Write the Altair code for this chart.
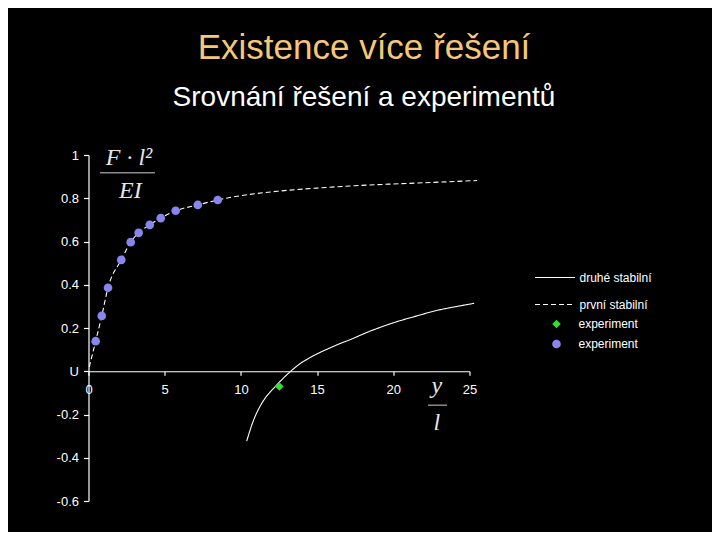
import altair as alt
import pandas as pd

# ---- data ----
dash_x = [0.05, 0.47, 0.87, 1.28, 2.15, 2.77, 3.29, 4.02, 4.74, 5.72, 7.17, 8.48, 10.0, 12.5, 15.0, 17.5, 20.0, 22.5, 25.5]
dash_y = [0.02, 0.139, 0.256, 0.386, 0.515, 0.597, 0.640, 0.677, 0.708, 0.742, 0.769, 0.792, 0.812, 0.833, 0.847, 0.858, 0.866, 0.873, 0.882]

solid_x = [10.38, 10.81, 11.25, 11.69, 12.13, 12.6, 13.22, 13.88, 14.53, 15.19, 15.85, 16.5, 17.05, 18.5, 20.0, 21.5, 22.9, 24.2, 25.3]
solid_y = [-0.323, -0.23, -0.163, -0.115, -0.08, -0.045, -0.003, 0.035, 0.063, 0.087, 0.108, 0.128, 0.143, 0.186, 0.224, 0.255, 0.282, 0.300, 0.314]

blue_x = [0.47, 0.87, 1.28, 2.15, 2.77, 3.29, 4.02, 4.74, 5.72, 7.17, 8.48]
blue_y = [0.139, 0.256, 0.386, 0.515, 0.597, 0.640, 0.677, 0.708, 0.742, 0.769, 0.792]

green_x = [12.52]
green_y = [-0.07]

line_names = ["druhé stabilní", "první stabilní"]
point_names = ["exp_green", "exp_blue"]

x_ticks = [0, 5, 10, 15, 20, 25]
y_ticks = [-0.6, -0.4, -0.2, 0, 0.2, 0.4, 0.6, 0.8, 1]

# formula annotations (data coordinates)
ann_text = ["F · l²", "EI", "y", "l"]
ann_x = [2.66, 2.75, 22.85, 22.85]
ann_y = [0.954, 0.801, -0.102, -0.273]
bar_x1 = [0.75, 22.28]
bar_x2 = [4.36, 23.53]
bar_y = [0.918, -0.157]

# ---- tables ----
lines_df = pd.concat([
    pd.DataFrame({"x": solid_x, "y": solid_y, "series": line_names[0]}),
    pd.DataFrame({"x": dash_x, "y": dash_y, "series": line_names[1]}),
])
points_df = pd.concat([
    pd.DataFrame({"x": green_x, "y": green_y, "series": point_names[0]}),
    pd.DataFrame({"x": blue_x, "y": blue_y, "series": point_names[1]}),
])
ann_df = pd.DataFrame({"x": ann_x, "y": ann_y, "text": ann_text})
bar_df = pd.DataFrame({"x": bar_x1, "x2": bar_x2, "y": bar_y})

W, H = 381, 346
xs = alt.Scale(domain=[0, 25], nice=False, zero=False)
ys = alt.Scale(domain=[-0.6, 1], nice=False, zero=False)
zero_offset = -(H - H * (1 - 0) / 1.6)

x_axis = alt.Axis(values=x_ticks, title=None, offset=zero_offset, grid=False,
                  tickSize=4, labelPadding=8, labelFlush=False, labelOverlap=False)
y_axis = alt.Axis(values=y_ticks, title=None, grid=False, tickSize=5, labelPadding=5,
                  labelExpr="datum.value == 0 ? 'U' : toString(datum.value)")

lines = alt.Chart(lines_df).mark_line(color="white", strokeWidth=1.1, clip=False,
                                      interpolate="monotone").encode(
    x=alt.X("x:Q", scale=xs, axis=x_axis),
    y=alt.Y("y:Q", scale=ys, axis=y_axis),
    strokeDash=alt.StrokeDash(
        "series:N",
        scale=alt.Scale(domain=line_names, range=[[1, 0], [5, 3]]),
        legend=alt.Legend(title=None, orient="none", legendX=446, legendY=102,
                          symbolType="stroke", symbolSize=1600, symbolStrokeColor="white",
                          symbolStrokeWidth=1, labelOffset=4, rowPadding=0, padding=0),
    ),
    detail="series:N",
)

pt_legend = alt.Legend(title=None, orient="none", legendX=462, legendY=163,
                       labelExpr="'experiment'", symbolSize=75,
                       labelOffset=16, rowPadding=8, padding=0)

points = alt.Chart(points_df).mark_point(filled=True, opacity=1, size=75, clip=False).encode(
    x=alt.X("x:Q", scale=xs),
    y=alt.Y("y:Q", scale=ys),
    shape=alt.Shape("series:N", scale=alt.Scale(domain=point_names, range=["diamond", "circle"]),
                    legend=pt_legend),
    color=alt.Color("series:N", scale=alt.Scale(domain=point_names, range=["#33DD33", "#8686EE"]),
                    legend=pt_legend),
)

bars = alt.Chart(bar_df).mark_rule(color="#8a8a8a", strokeWidth=1.5, clip=False).encode(
    x=alt.X("x:Q", scale=xs), x2="x2:Q", y=alt.Y("y:Q", scale=ys)
)
texts = alt.Chart(ann_df).mark_text(font="Liberation Serif", fontStyle="italic", fontSize=24,
                                    color="#e6e6e6", baseline="alphabetic", align="center",
                                    clip=False).encode(
    x=alt.X("x:Q", scale=xs), y=alt.Y("y:Q", scale=ys), text="text:N"
)

chart = alt.layer(lines, points, bars, texts).resolve_legend(
    strokeDash="independent", shape="shared", color="shared"
).properties(
    width=W, height=H,
    autosize=alt.AutoSizeParams(type="none"),
    padding={"left": 80.5, "top": 147, "right": 704 - 80.5 - W, "bottom": 524 - 147 - H},
    background="black",
    title=alt.TitleParams(
        text="Existence více řešení", subtitle="Srovnání řešení a experimentů",
        color="#F4C878", subtitleColor="white", font="Liberation Sans",
        subtitleFont="Liberation Sans", fontSize=35, subtitleFontSize=28,
        fontWeight="normal", anchor="middle", frame="group", dx=85,
        offset=34, subtitlePadding=18,
    ),
).configure_view(strokeWidth=0).configure_axis(
    domainColor="white", tickColor="white", labelColor="white",
    labelFont="Liberation Sans", labelFontSize=13, domainWidth=1.2, tickWidth=1.2,
).configure_legend(
    labelColor="white", labelFont="Liberation Sans", labelFontSize=12,
)

chart.save("out.html", embed_options={"renderer": "svg", "actions": False})
